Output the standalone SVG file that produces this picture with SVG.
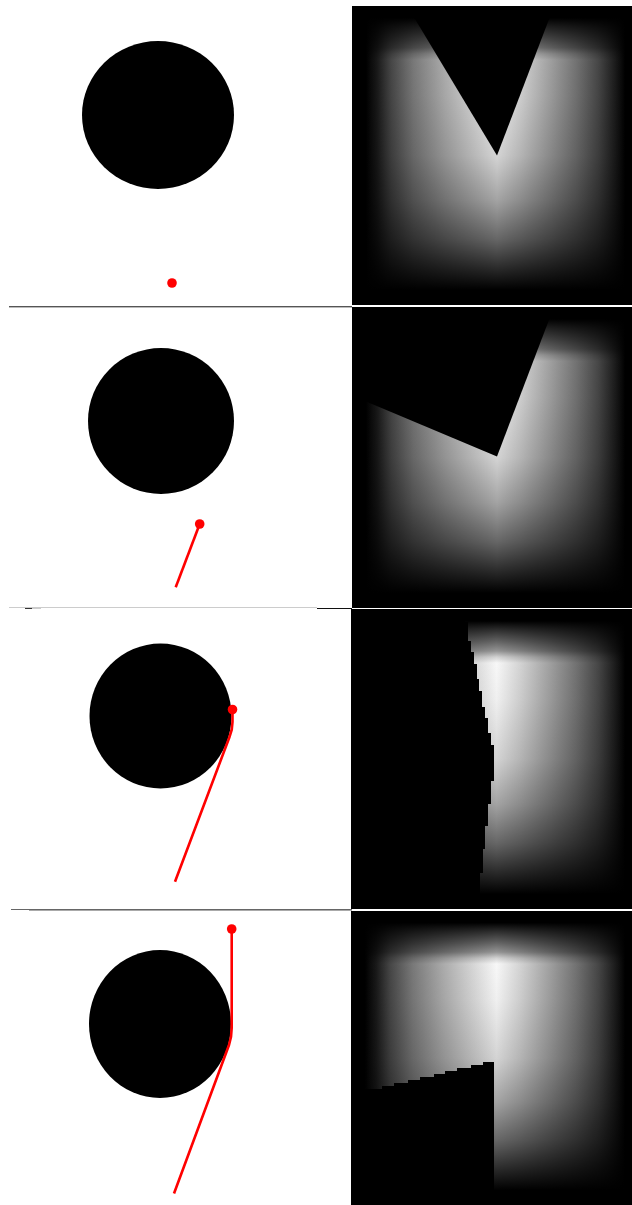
<svg xmlns="http://www.w3.org/2000/svg" width="632" height="1205" viewBox="0 0 632 1205">
  <style>
    .disc { fill: #000; }
    .path { fill: none; stroke: #f00; stroke-width: 2.6; stroke-linejoin: round; }
    .dot { fill: #f00; }
    .h { fill: url(#fx); }
    .v { fill: url(#fy); }
    .obs { fill: #000; }
  </style>
  <defs>
    <linearGradient id="fx" x1="0" y1="0" x2="1" y2="0">
      <stop offset="0.05" stop-color="#000"/>
      <stop offset="0.09" stop-color="#1a1a1a"/>
      <stop offset="0.14" stop-color="#484848"/>
      <stop offset="0.22" stop-color="#7c7c7c"/>
      <stop offset="0.33" stop-color="#b0b0b0"/>
      <stop offset="0.44" stop-color="#dedede"/>
      <stop offset="0.518" stop-color="#fff"/>
      <stop offset="0.60" stop-color="#dadada"/>
      <stop offset="0.70" stop-color="#a8a8a8"/>
      <stop offset="0.80" stop-color="#767676"/>
      <stop offset="0.88" stop-color="#484848"/>
      <stop offset="0.94" stop-color="#1c1c1c"/>
      <stop offset="0.975" stop-color="#000"/>
    </linearGradient>
    <linearGradient id="fy" x1="0" y1="0" x2="0" y2="1">
      <stop offset="0.04" stop-color="#000" stop-opacity="1"/>
      <stop offset="0.07" stop-color="#000" stop-opacity="0.82"/>
      <stop offset="0.11" stop-color="#000" stop-opacity="0.6"/>
      <stop offset="0.14" stop-color="#000" stop-opacity="0.42"/>
      <stop offset="0.16" stop-color="#000" stop-opacity="0.18"/>
      <stop offset="0.18" stop-color="#000" stop-opacity="0.03"/>
      <stop offset="0.30" stop-color="#000" stop-opacity="0.06"/>
      <stop offset="0.50" stop-color="#000" stop-opacity="0.17"/>
      <stop offset="0.65" stop-color="#000" stop-opacity="0.36"/>
      <stop offset="0.78" stop-color="#000" stop-opacity="0.6"/>
      <stop offset="0.88" stop-color="#000" stop-opacity="0.84"/>
      <stop offset="0.95" stop-color="#000" stop-opacity="1"/>
    </linearGradient>
  </defs>

  <rect width="632" height="1205" fill="#fff"/>

  <g id="panel-1-scene">
    <ellipse class="disc" cx="158" cy="115" rx="76" ry="74"/>
    <circle class="dot" cx="172" cy="283" r="4.8"/>
  </g>
  <g id="panel-2-scene">
    <circle class="disc" cx="161" cy="421" r="73"/>
    <path class="path" d="M199.7,524 L175.7,587.3"/>
    <circle class="dot" cx="199.7" cy="524" r="4.8"/>
  </g>
  <g id="panel-3-scene">
    <ellipse class="disc" cx="160.5" cy="716" rx="71" ry="72.5"/>
    <path class="path" d="M232.5,709.5 V722 Q232.5,730 229.5,737 L175,881.7"/>
    <circle class="dot" cx="232.5" cy="709.5" r="4.8"/>
  </g>
  <g id="panel-4-scene">
    <ellipse class="disc" cx="160" cy="1024" rx="71" ry="74"/>
    <path class="path" d="M231.7,929 V1028 Q231.7,1037 229,1045 L174,1193.5"/>
    <circle class="dot" cx="231.7" cy="929" r="4.8"/>
  </g>

  <g id="dividers">
    <rect x="9" y="306" width="343" height="1" fill="#555"/>
    <rect x="9" y="307" width="343" height="1" fill="#bbb"/>
    <rect x="9" y="607" width="308" height="1" fill="#ccc"/>
    <rect x="25" y="608" width="7" height="1" fill="#333"/>
    <rect x="32" y="608" width="9" height="1" fill="#ccc"/>
    <rect x="317" y="608" width="35" height="1" fill="#111"/>
    <rect x="11" y="909" width="341" height="1" fill="#666"/>
    <rect x="29" y="910" width="323" height="1" fill="#aaa"/>
  </g>

  <g id="panel-1-map">
    <rect x="352" y="6" width="280" height="299" class="h"/>
    <rect x="352" y="6" width="280" height="299" class="v"/>
    <path class="obs" d="M412,14 L497,155.5 L551,14 Z"/>
  </g>
  <g id="panel-2-map">
    <rect x="352" y="307" width="280" height="301" class="h"/>
    <rect x="352" y="307" width="280" height="301" class="v"/>
    <path class="obs" d="M352,307 V395.5 L366.7,401.7 L497,456.5 L552,312 V307 Z"/>
  </g>
  <g id="panel-3-map">
    <rect x="351" y="609" width="281" height="300" class="h"/>
    <rect x="351" y="609" width="281" height="300" class="v"/>
    <path class="obs" d="M351,609 H465 V622 H468 V641 H471 V652 H474 V664 H477 V679 H479 V691 H482 V707 H485 V718 H488 V733 H491 V745 H494 V781 H491 V804 H488 V826 H485 V849 H483 V873 H480 V909 H351 Z"/>
  </g>
  <g id="panel-4-map">
    <rect x="351" y="911" width="281" height="294" class="h"/>
    <rect x="351" y="911" width="281" height="294" class="v"/>
    <path class="obs" d="M351,1205 V1089 H382 V1086 H394 V1083 H408 V1080 H420 V1077 H434 V1074 H445 V1071 H457 V1068 H471 V1065 H483 V1062 H494 V1205 Z"/>
  </g>
</svg>
